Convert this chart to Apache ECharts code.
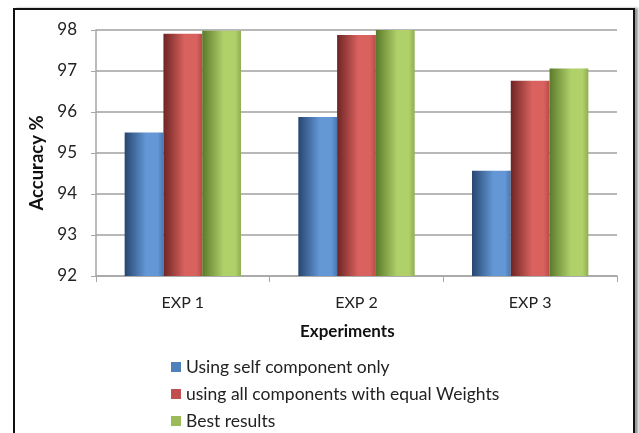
<!DOCTYPE html>
<html>
<head>
<meta charset="utf-8">
<script src="https://cdn.jsdelivr.net/npm/echarts@6/dist/echarts.min.js"></script>
<style>
  html, body { margin: 0; padding: 0; background: #fff; }
  #frame { position: absolute; left: 13px; top: 8px; width: 622px; height: 440px;
           border: 2px solid #111; box-shadow: 3px 0 2px #999; box-sizing: border-box; }
  #chart { position: absolute; left: 0; top: 0; width: 639px; height: 433px; }
</style>
</head>
<body>
<div id="frame"></div>
<div id="chart"></div>
<script>
// Accuracy per experiment for the three weighting schemes
const categories = ['EXP 1', 'EXP 2', 'EXP 3'];
const selfOnly = [95.5, 95.88, 94.57];
const equalWeights = [97.91, 97.88, 96.76];
const bestResults = [97.98, 98.0, 97.06];
const seriesNames = ['Using self component only', 'using all components with equal Weights', 'Best results'];
const yTicks = { min: 92, max: 98, step: 1 };

const FONT = 'Lato';

// cylinder-like shading across each bar
function shade(dark, light, edge) {
  return new echarts.graphic.LinearGradient(0, 0, 1, 0, [
    { offset: 0, color: dark },
    { offset: 0.55, color: light },
    { offset: 0.85, color: light },
    { offset: 1, color: edge }
  ]);
}

const palette = [
  { solid: '#4f81bd', fill: shade('#27466f', '#6397d6', '#4a78b0') },
  { solid: '#c0504d', fill: shade('#6e2523', '#d9625f', '#b84a47') },
  { solid: '#9bbb59', fill: shade('#5b7a2a', '#b0d06a', '#8fae52') }
];

const data = [selfOnly, equalWeights, bestResults];

const chart = echarts.init(document.getElementById('chart'), null, { renderer: 'canvas' });
chart.setOption({
  animation: false,
  textStyle: { fontFamily: FONT },
  grid: { left: 96, right: 22, top: 30, bottom: 157 },
  title: {
    text: 'Experiments', left: 295, top: 318,
    textStyle: { fontFamily: FONT, fontSize: 17, fontWeight: 'bold', color: '#111' }
  },
  legend: {
    orient: 'vertical', left: 166, top: 353, width: 400, height: 90,
    itemWidth: 10, itemHeight: 10, itemGap: 9,
    icon: 'rect',
    textStyle: { fontFamily: FONT, fontSize: 17.5, color: '#222' },
    data: seriesNames.map((n, i) => ({ name: n, itemStyle: { color: palette[i].solid } }))
  },
  xAxis: {
    type: 'category', data: categories,
    axisLine: { lineStyle: { color: '#a6a6a6', width: 1.5 } },
    axisTick: { show: true, alignWithLabel: false, length: 6, lineStyle: { color: '#a6a6a6' } },
    axisLabel: { color: '#222', fontSize: 16, margin: 19 }
  },
  yAxis: {
    type: 'value', min: yTicks.min, max: yTicks.max, interval: yTicks.step,
    name: 'Accuracy %', nameLocation: 'middle', nameGap: 48, nameRotate: 90,
    nameTextStyle: { fontFamily: FONT, fontSize: 18.5, fontWeight: 'bold', color: '#111', padding: [0, 20, 0, 0] },
    axisLine: { show: true, lineStyle: { color: '#a6a6a6', width: 1.5 } },
    axisTick: { show: true, length: 5, lineStyle: { color: '#a6a6a6' } },
    axisLabel: { color: '#222', fontSize: 17, margin: 19 },
    splitLine: { lineStyle: { color: '#a0a0a0', width: 1.5 } }
  },
  series: data.map((vals, i) => ({
    name: seriesNames[i], type: 'bar', data: vals,
    barGap: '0%', barCategoryGap: '33%',
    itemStyle: { color: palette[i].fill }
  }))
});
</script>
</body>
</html>
